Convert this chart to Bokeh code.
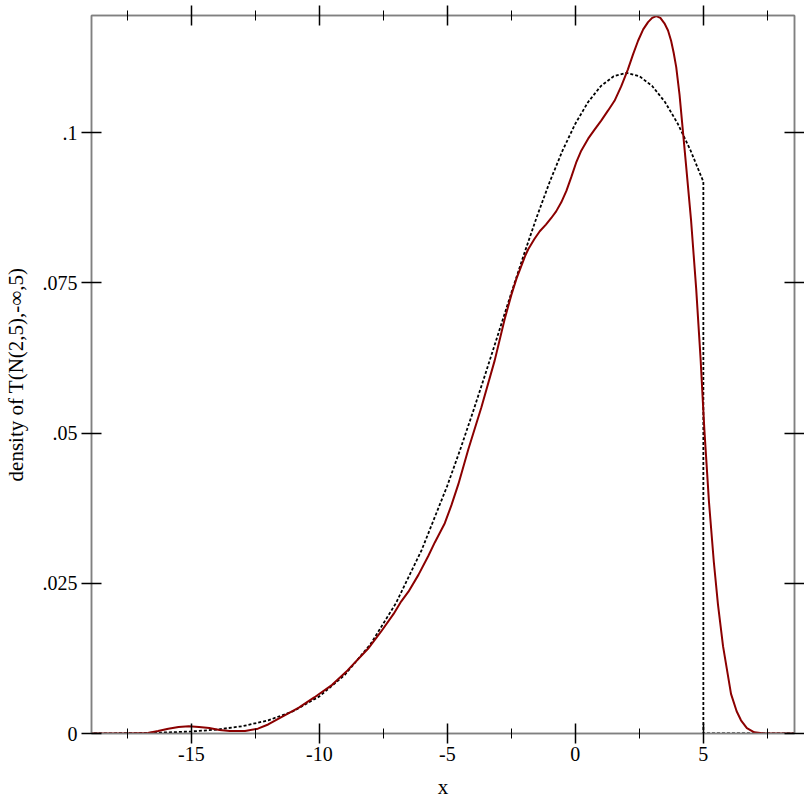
from bokeh.plotting import figure
from bokeh.models import Range1d, FixedTicker, LinearAxis, CustomLabelingPolicy
from bokeh.embed import file_html
from bokeh.resources import INLINE

# Empirical density estimate (solid dark red curve)
kde_x = [-18.9, -17.5, -16.7, -16.3, -15.9, -15.5, -15.1, -14.7, -14.3, -13.9,
         -13.5, -12.9, -12.4, -12.0, -11.5, -10.8, -10.2, -9.5, -8.9, -8.1,
         -7.6, -7.1, -6.8, -6.52, -6.13, -5.75, -5.49, -5.1, -4.84, -4.57,
         -4.18, -3.67, -3.15, -2.76, -2.50, -2.30, -2.05, -1.95, -1.84, -1.6,
         -1.39, -1.15, -0.94, -0.75, -0.55, -0.35, -0.16, 0.03, 0.23, 0.5,
         0.75, 1.01, 1.28, 1.53, 1.79, 2.05, 2.25, 2.45, 2.65, 2.84,
         3.0, 3.16, 3.32, 3.48, 3.62, 3.74, 3.84, 3.94, 4.07, 4.20,
         4.33, 4.52, 4.72, 4.89, 5.04, 5.22, 5.41, 5.57, 5.77, 6.08,
         6.3, 6.47, 6.7, 6.99, 7.3, 7.6, 8.56]
kde_y = [0.0, 0.00002, 0.0001, 0.0004, 0.0008, 0.0011, 0.0012, 0.0011, 0.0009, 0.0006,
         0.0004, 0.0004, 0.0008, 0.0015, 0.0027, 0.0043, 0.0060, 0.0081, 0.0105, 0.0141,
         0.0169, 0.0199, 0.0220, 0.0236, 0.0264, 0.0295, 0.0318, 0.0350, 0.0380, 0.0415,
         0.0473, 0.0543, 0.0621, 0.0690, 0.0730, 0.0757, 0.0785, 0.0796, 0.0806, 0.0823,
         0.0836, 0.0847, 0.0858, 0.0869, 0.0884, 0.0903, 0.0926, 0.0950, 0.0970, 0.0990,
         0.1005, 0.1020, 0.1037, 0.1053, 0.1077, 0.1105, 0.1130, 0.1153, 0.1172, 0.1184,
         0.1191, 0.1194, 0.1191, 0.1182, 0.1170, 0.1153, 0.1133, 0.1109, 0.1063, 0.1003,
         0.0943, 0.0854, 0.0740, 0.0625, 0.0505, 0.0385, 0.0285, 0.0215, 0.0145, 0.0066,
         0.0037, 0.0022, 0.0009, 0.0002, 0.00003, 0.0, 0.0]

# Truncated normal density (dashed black curve)
pdf_x = [-19, -18, -17, -16, -15, -14, -13, -12, -11, -10, -9, -8, -7, -6, -5,
         -4.5, -4, -3.5, -3, -2.5, -2, -1.5, -1, -0.5, 0, 0.5, 1, 1.5, 2,
         2.5, 3, 3.5, 4, 4.5, 5, 5, 8.6]
pdf_y = [0.000016, 0.000037, 0.000080, 0.000169, 0.000340, 0.000657, 0.001221,
         0.002182, 0.003743, 0.006172, 0.009777, 0.014880, 0.021759, 0.030570,
         0.041265, 0.047229, 0.053518, 0.060040, 0.066687, 0.073333, 0.079839,
         0.086057, 0.091837, 0.097030, 0.101496, 0.105111, 0.107772, 0.109400,
         0.109949, 0.109400, 0.107772, 0.105111, 0.101496, 0.097030, 0.091837,
         0.0, 0.0]

x_ticks = [-15, -10, -5, 0, 5]
x_minor = [-17.5, -12.5, -7.5, -2.5, 2.5, 7.5]
x_labels = ["-15", "-10", "-5", "0", "5"]
y_ticks = [0, 0.025, 0.05, 0.075, 0.1]
y_labels = ["0", ".025", ".05", ".075", ".1"]

FONT = "Liberation Serif"
FS = "20px"
FS_LABEL = "21px"
GRAY = "#808080"

p = figure(width=804, height=804, output_backend="svg", toolbar_location=None,
           x_range=Range1d(-18.9, 8.56), y_range=Range1d(0, 0.1195),
           min_border_left=90, min_border_right=10, min_border_top=15,
           min_border_bottom=71, x_axis_label="x",
           y_axis_label="density of T(N(2,5),-\u221e,5)")
p.grid.visible = False
p.outline_line_color = GRAY
p.outline_line_width = 1.5
p.background_fill_color = "white"
p.border_fill_color = "white"

p.line(pdf_x, pdf_y, line_color="black", line_width=1.8, line_dash="3 2")
p.line(kde_x, kde_y, line_color="#8B0000", line_width=2)

xt = FixedTicker(ticks=x_ticks, minor_ticks=x_minor)
yt = FixedTicker(ticks=y_ticks, minor_ticks=[])


def style(ax, ticker, labels, show_labels=True, tick_out=10):
    ax.ticker = ticker
    ax.major_label_overrides = dict(zip(ticker.ticks, labels))
    ax.axis_line_color = GRAY
    ax.axis_line_width = 1.5
    ax.major_tick_line_color = "black"
    ax.major_tick_line_width = 1.5
    ax.minor_tick_line_color = "black"
    ax.minor_tick_line_width = 1
    ax.major_tick_out = tick_out
    ax.major_tick_in = 10
    ax.minor_tick_out = 5
    ax.minor_tick_in = 5
    ax.major_label_text_font = FONT
    ax.major_label_text_font_size = FS if show_labels else "0px"
    ax.major_label_text_color = "black"
    ax.major_label_standoff = 4 if show_labels else 0
    if not show_labels:
        ax.major_label_policy = CustomLabelingPolicy(code="return []")
    ax.axis_label_text_font = FONT
    ax.axis_label_text_font_size = FS_LABEL
    ax.axis_label_text_font_style = "normal"
    ax.axis_label_text_color = "black"


style(p.xaxis[0], xt, x_labels)
style(p.yaxis[0], yt, y_labels)
p.xaxis[0].major_label_standoff = 3
p.xaxis[0].axis_label_standoff = 11
p.yaxis[0].axis_label_standoff = 12

top = LinearAxis()
style(top, FixedTicker(ticks=x_ticks, minor_ticks=x_minor), x_labels, False, 10)
right = LinearAxis()
style(right, FixedTicker(ticks=y_ticks, minor_ticks=[]), y_labels, False, 10)
p.add_layout(top, "above")
p.add_layout(right, "right")

open("out.html", "w").write(file_html(p, INLINE))
